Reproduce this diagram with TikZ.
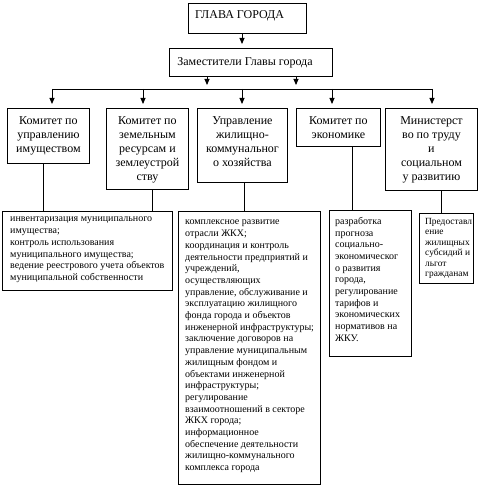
\documentclass[tikz,border=0pt]{standalone}
\usepackage{fontspec}
\setmainfont{Liberation Serif}
\usetikzlibrary{arrows.meta}
\begin{document}
\begin{tikzpicture}[x=1pt,y=-1pt,
  box/.style={draw,line width=0.9pt,rectangle,inner sep=0pt,anchor=north west},
  toptext/.style={anchor=north,inner sep=0pt,align=center,font=\fontsize{12}{14}\selectfont},
  lowtext/.style={anchor=north west,inner sep=0pt,align=left,font=\fontsize{10}{11.7}\selectfont},
  conn/.style={line width=0.9pt},
  arr/.style={line width=0.9pt,-{Triangle[width=5pt,length=6pt]},shorten >=4pt}]
\useasboundingbox (0,0) rectangle (483,492);
% top
\node[box,minimum width=118pt,minimum height=30pt] (glava) at (188,3) {};
\node[anchor=north west,inner sep=0pt,font=\fontsize{12}{14}\selectfont] (glavat) at (195,10) {ГЛАВА ГОРОДА};
\node[box,minimum width=163pt,minimum height=28pt] (zam) at (169,48) {};
\node[toptext] (zamt) at (245,57) {Заместители Главы города};
% second level
\node[box,minimum width=82pt,minimum height=55pt] (b1) at (7,108) {};
\node[box,minimum width=82pt,minimum height=81pt] (b2) at (106,108) {};
\node[box,minimum width=90pt,minimum height=74pt] (b3) at (197,108) {};
\node[box,minimum width=84pt,minimum height=38pt] (b4) at (296,108) {};
\node[box,minimum width=92pt,minimum height=82pt] (b5) at (385,108) {};
\node[toptext] (b1t) at ([yshift=-8pt]b1.north) {Комитет по\\управлению\\имуществом};
\node[toptext] (b2t) at ([yshift=-8pt]b2.north) {Комитет по\\земельным\\ресурсам и\\землеустрой\\ству};
\node[toptext] (b3t) at ([yshift=-8pt]b3.north) {Управление\\жилищно-\\коммунальног\\о хозяйства};
\node[toptext] (b4t) at ([yshift=-8pt]b4.north) {Комитет по\\экономике};
\node[toptext] (b5t) at ([yshift=-8pt]b5.north) {Министерст\\во по труду\\и\\социальном\\у развитию};
% third level
\node[box,minimum width=170pt,minimum height=79pt] (c1) at (2,211) {};
\node[box,minimum width=142pt,minimum height=273pt] (c2) at (178,211) {};
\node[box,minimum width=82pt,minimum height=146pt] (c3) at (329,210) {};
\node[box,minimum width=54pt,minimum height=70pt] (c4) at (419,213) {};
\node[lowtext] (c1t) at (10,217) {инвентаризация муниципального\\имущества;\\контроль использования\\муниципального имущества;\\ведение реестрового учета объектов\\муниципальной собственности};
\node[lowtext] (c2t) at (185,220) {комплексное развитие\\отрасли ЖКХ;\\координация и контроль\\деятельности предприятий и\\учреждений,\\осуществляющих\\управление, обслуживание и\\эксплуатацию жилищного\\фонда города и объектов\\инженерной инфраструктуры;\\заключение договоров на\\управление муниципальным\\жилищным фондом и\\объектами инженерной\\инфраструктуры;\\регулирование\\взаимоотношений в секторе\\ЖКХ города;\\информационное\\обеспечение деятельности\\жилищно-коммунального\\комплекса города};
\node[lowtext] (c3t) at (335,217) {разработка\\прогноза\\социально-\\экономическог\\о развития\\города,\\регулирование\\тарифов и\\экономических\\нормативов на\\ЖКУ.};
\node[lowtext,font=\fontsize{9.4}{10.5}\selectfont] (c4t) at (425,218) {Предоставл\\ение\\жилищных\\субсидий и\\льгот\\гражданам};
% coordinates
\coordinate (bus) at (0,89);
\coordinate (z1) at (207,89);
\coordinate (z2) at (296,89);
\coordinate (d1) at (52,89);
\coordinate (d2) at (143,89);
\coordinate (d3) at (242,89);
\coordinate (d4) at (332,89);
\coordinate (d5) at (432,89);
\coordinate (l1) at (43,0);
\coordinate (l2) at (152,0);
\coordinate (l3) at (244,0);
\coordinate (l4) at (352,0);
\coordinate (l5) at (441,0);
% connectors
\draw[arr] (glava.south -| d3) -- (zam.north -| d3);
\draw[arr] (zam.south -| z1) -- (z1);
\draw[arr] (zam.south -| z2) -- (z2);
\draw[conn] (d1) -- (d5);
\draw[arr] (d1) -- (b1.north -| d1);
\draw[arr] (d2) -- (b2.north -| d2);
\draw[arr] (d3) -- (b3.north -| d3);
\draw[arr] (d4) -- (b4.north -| d4);
\draw[arr] (d5) -- (b5.north -| d5);
\draw[conn] (b1.south -| l1) -- (c1.north -| l1);
\draw[conn] (b2.south -| l2) -- (c1.north -| l2);
\draw[conn] (b3.south -| l3) -- (c2.north -| l3);
\draw[conn] (b4.south -| l4) -- (c3.north -| l4);
\draw[conn] (b5.south -| l5) -- (c4.north -| l5);
\end{tikzpicture}
\end{document}
